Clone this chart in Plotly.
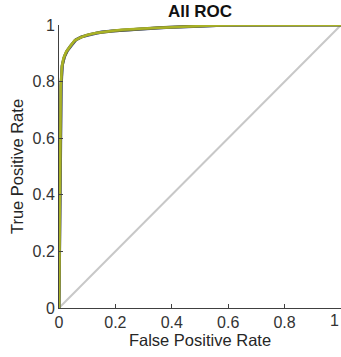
import plotly.graph_objects as go

# ROC curves (false positive rate, true positive rate) for each class
fpr_a = [0.0, 0.004, 0.006, 0.010, 0.015, 0.025, 0.040, 0.055, 0.075, 0.100, 0.130, 0.170, 0.220, 0.300, 0.400, 0.520, 0.620, 1.0]
tpr_a = [0.0, 0.600, 0.780, 0.850, 0.880, 0.905, 0.925, 0.945, 0.955, 0.965, 0.972, 0.978, 0.983, 0.988, 0.993, 0.997, 1.000, 1.0]

fpr_b = [0.0, 0.005, 0.008, 0.012, 0.020, 0.030, 0.045, 0.060, 0.080, 0.110, 0.150, 0.200, 0.280, 0.380, 0.500, 0.600, 1.0]
tpr_b = [0.0, 0.620, 0.790, 0.860, 0.890, 0.910, 0.930, 0.948, 0.958, 0.966, 0.975, 0.980, 0.986, 0.991, 0.996, 1.000, 1.0]

fpr_c = [0.0, 0.005, 0.007, 0.011, 0.018, 0.028, 0.042, 0.058, 0.078, 0.105, 0.140, 0.190, 0.260, 0.350, 0.460, 0.580, 1.0]
tpr_c = [0.0, 0.610, 0.785, 0.855, 0.885, 0.908, 0.928, 0.946, 0.957, 0.966, 0.973, 0.979, 0.984, 0.990, 0.995, 0.999, 1.0]

chance_x = [0, 1]
chance_y = [0, 1]

x_ticks = [0, 0.2, 0.4, 0.6, 0.8, 1]
y_ticks = [0, 0.2, 0.4, 0.6, 0.8, 1]

fig = go.Figure()
fig.add_trace(go.Scatter(x=chance_x, y=chance_y, mode="lines",
                         line=dict(color="#c8c8c8", width=2), showlegend=False))
fig.add_trace(go.Scatter(x=fpr_b, y=tpr_b, mode="lines",
                         line=dict(color="#3c4a96", width=3), showlegend=False))
fig.add_trace(go.Scatter(x=fpr_c, y=tpr_c, mode="lines",
                         line=dict(color="#6b6e3c", width=3), showlegend=False))
fig.add_trace(go.Scatter(x=fpr_a, y=tpr_a, mode="lines",
                         line=dict(color="#a9b225", width=2.5), showlegend=False))

font_family = "Liberation Sans, Arial, sans-serif"
tick_font = dict(family=font_family, size=16, color="#333333")
label_font = dict(family=font_family, size=16.5, color="#262626")

fig.update_layout(
    width=341, height=357,
    margin=dict(l=59, r=0, t=25, b=49),
    paper_bgcolor="white", plot_bgcolor="white",
    title=dict(text="<b>All ROC</b>", x=200 / 341, xanchor="center",
               y=1 - 11 / 357, yanchor="middle",
               font=dict(family=font_family, size=17, color="#111111")),
    xaxis=dict(range=[0, 1], tickvals=x_ticks[:-1], ticktext=[f"{v:g}" for v in x_ticks[:-1]],
               showgrid=False, zeroline=False, showline=True, linecolor="#404040", linewidth=1,
               ticks="inside", ticklen=4, tickcolor="#404040", tickfont=tick_font,
               title=dict(text="False Positive Rate", font=label_font, standoff=2)),
    yaxis=dict(range=[0, 1], tickvals=y_ticks, ticktext=[f"{v:g}" for v in y_ticks],
               showgrid=False, zeroline=False, showline=True, linecolor="#404040", linewidth=1,
               ticks="inside", ticklen=4, tickcolor="#404040", tickfont=tick_font,
               title=dict(text="True Positive Rate", font=label_font, standoff=4)),
)

# the last x tick label sits against the right edge of the page
fig.add_annotation(x=x_ticks[-1], y=0, xref="x", yref="paper", text=f"{x_ticks[-1]:g}",
                   showarrow=False, xanchor="right", yanchor="top", yshift=-2,
                   font=tick_font)

fig.write_html("out.html")
